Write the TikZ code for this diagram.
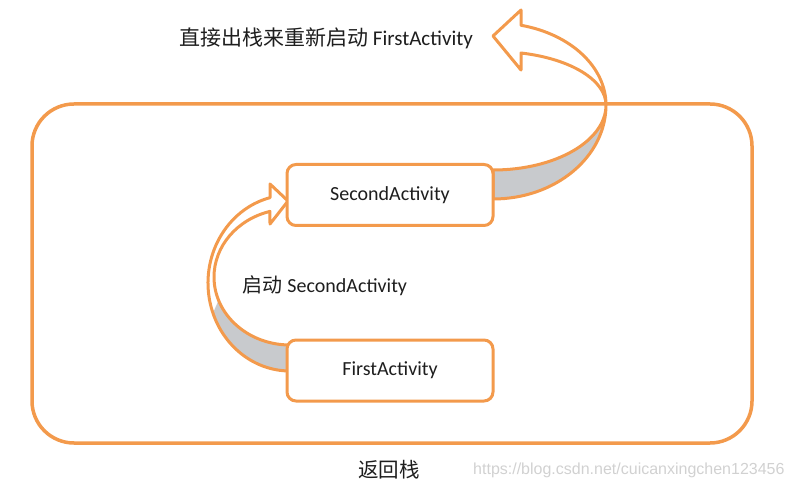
\documentclass[tikz,border=0pt]{standalone}
\usepackage{fontspec}
\setmainfont{Carlito}
\newfontfamily\cjk{Noto Sans CJK SC}
\newfontfamily\wmfont{Liberation Sans}
\definecolor{ora}{HTML}{F39A4C}
\definecolor{bandgray}{HTML}{C8CACD}
\definecolor{ink}{HTML}{1E1E1E}
\begin{document}
\begin{tikzpicture}[x=1pt,y=1pt,
  box/.style={draw=ora, line width=3pt, fill=white, rounded corners=9pt,
    minimum width=206pt, minimum height=61pt, inner sep=0pt, text=ink,
    font=\fontsize{20}{24}\selectfont},
  lbl/.style={text=ink, inner sep=0pt, font=\fontsize{20}{24}\selectfont},
  ribbon/.style={draw=ora, line width=3pt, line join=round},
  under/.style={fill=bandgray},
]
\useasboundingbox (0,0) rectangle (794,490);
% back stack frame
\node[draw=ora, line width=3.5pt, rounded corners=42pt, minimum width=720pt,
  minimum height=339pt, inner sep=0pt] (stack) at (392,216.5) {};
% left curved arrow (FirstActivity -> SecondActivity)
\fill[under] (290,207) ++(200:82 and 88)
  arc[start angle=200,end angle=270,x radius=82,y radius=88] -- (290,145)
  arc[start angle=270,end angle=200,x radius=76,y radius=68] -- cycle;
\draw[ribbon] (290,207) ++(104.1:82 and 88)
  arc[start angle=104.1,end angle=270,x radius=82,y radius=88] -- (290,145)
  arc[start angle=270,end angle=105.3,x radius=76,y radius=68]
  -- (270,266) -- (288,289) -- (270,306) -- cycle;
% right curved arrow (SecondActivity -> out of stack)
\fill[under] (493,385) ++(0:113 and 94)
  arc[start angle=0,end angle=-90,x radius=113,y radius=94] -- (493,320)
  arc[start angle=-90,end angle=0,x radius=113,y radius=65] -- cycle;
\draw[ribbon] (493,291)
  arc[start angle=-90,end angle=0,x radius=113,y radius=94]
  arc[start angle=0,end angle=76.45,x radius=111,y radius=82]
  -- (521,480) -- (493,454) -- (521,420) -- (521,437)
  arc[start angle=76.45,end angle=0,x radius=111,y radius=53.5]
  arc[start angle=0,end angle=-90,x radius=113,y radius=65] -- cycle;
% activities
\node[box] (second) at (390,295) {SecondActivity};
\node[box] (first) at (390,119.5) {FirstActivity};
% labels
\node[lbl, font=\fontsize{21}{25}\selectfont] (title) at (326,452)
  {{\cjk 直接出栈来重新启动} FirstActivity};
\node[lbl] (launch) at (325,204) {{\cjk 启动} SecondActivity};
\node[lbl, font=\fontsize{20.5}{24}\selectfont] (backstack) at (389,20) {\cjk 返回栈};
\node[anchor=west, inner sep=0pt, text=black!18,
  font={\wmfont\fontsize{16}{19}\selectfont}] (wm) at (473,20)
  {https://blog.csdn.net/cuicanxingchen123456};
\end{tikzpicture}
\end{document}
